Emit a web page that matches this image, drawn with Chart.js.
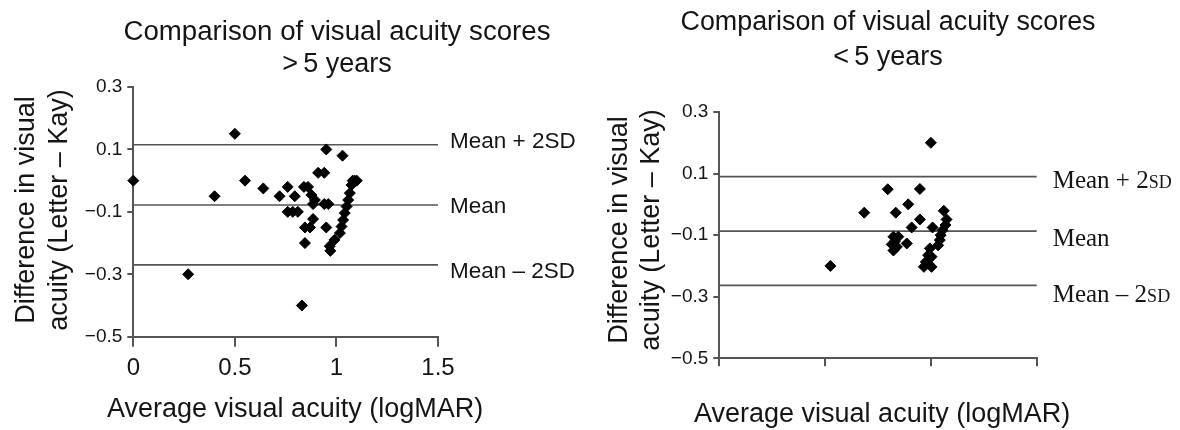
<!DOCTYPE html>
<html>
<head>
<meta charset="utf-8">
<script src="https://cdn.jsdelivr.net/npm/chart.js@4.4.0/dist/chart.umd.min.js"></script>
<style>
  html, body { margin: 0; padding: 0; background: #fff; }
  #wrap { position: relative; width: 1180px; height: 430px; }
  canvas { position: absolute; top: 0; }
</style>
</head>
<body>
<div id="wrap">
  <canvas id="older" width="600" height="430" style="left:0"></canvas>
  <canvas id="younger" width="580" height="430" style="left:600px"></canvas>
</div>
<script>
// > 5 years : average logMAR vs difference (letter - Kay)
const olderX = [0, 0.27, 0.4, 0.5, 0.55, 0.64, 0.72, 0.76, 0.795, 0.76, 0.785, 0.81,
  0.84, 0.86, 0.877, 0.894, 0.885, 0.885, 0.845, 0.87, 0.845, 0.83, 0.91, 0.94,
  0.95, 1.03, 0.94, 0.96, 0.95, 0.967, 0.97, 0.99, 1.017, 1.025, 1.033, 1.041,
  1.05, 1.058, 1.066, 1.074, 1.08, 1.09, 1.1];
const olderY = [0, -0.3, -0.05, 0.15, 0, -0.025, -0.05, -0.02, -0.05, -0.1, -0.1, -0.1,
  -0.02, -0.02, -0.046, -0.062, -0.075, -0.123, -0.15, -0.15, -0.2, -0.4, 0.025, 0.025,
  0.1, 0.08, -0.075, -0.075, -0.15, -0.21, -0.225, -0.19, -0.168, -0.147, -0.126, -0.104,
  -0.083, -0.062, -0.04, -0.014, 0, 0, 0];
const olderLimits = [0.115, -0.078, -0.27];

// < 5 years
const youngerX = [0.525, 0.685, 0.796, 0.948, 0.893, 0.834, 0.948, 0.909, 1.008, 1.0,
  0.823, 0.846, 0.83, 0.815, 0.823, 0.839, 0.886, 0.995, 0.987, 1.003, 0.976, 0.967,
  1.003, 0.987, 1.061, 1.074, 1.069, 1.055, 1.046, 1.042, 1.034];
const youngerY = [-0.2, -0.027, 0.049, 0.05, 0, -0.027, -0.049, -0.075, -0.075, 0.2,
  -0.105, -0.105, -0.12, -0.13, -0.15, -0.138, -0.127, -0.143, -0.165, -0.17, -0.187, -0.203,
  -0.203, -0.192, -0.021, -0.049, -0.067, -0.084, -0.1, -0.116, -0.133];
const youngerLimits = [0.09, -0.087, -0.263];

const limitNames = ['Mean + 2SD', 'Mean', 'Mean \u2013 2SD'];
const xTicks = [0, 0.5, 1, 1.5];
const yTicks = [-0.5, -0.3, -0.1, 0.1, 0.3];

const SANS = '"Liberation Sans", Arial, sans-serif';
const SERIF = '"Liberation Serif", "Times New Roman", serif';
const AXIS = '#555';
const INK = '#151515';

const fmtY = v => (v < 0 ? '\u2212' : '') + Math.abs(v).toFixed(1);

// draw text squeezed/stretched horizontally to a given width
function fitText(ctx, s, x, y, w) {
  const k = w / ctx.measureText(s).width;
  ctx.save();
  ctx.translate(x, y);
  ctx.scale(k, 1);
  ctx.fillText(s, 0, 0);
  ctx.restore();
}

// titles, axis titles and the line labels
function textPlugin(t) {
  return {
    id: 'texts',
    afterDraw(chart) {
      const ctx = chart.ctx;
      const ys = chart.scales.y;
      ctx.save();
      ctx.fillStyle = INK;
      ctx.textBaseline = 'alphabetic';
      ctx.font = '27px ' + SANS;
      ctx.textAlign = 'center';
      fitText(ctx, t.title[0], t.titleX, t.titleY[0], t.titleW);
      ctx.fillText(t.title[1], t.titleX, t.titleY[1]);

      ctx.textAlign = 'left';
      ctx.fillText(t.xTitle, t.xTitleX, t.xTitleY);

      ctx.save();
      ctx.translate(0, t.yTitleMid);
      ctx.rotate(-Math.PI / 2);
      ctx.textAlign = 'center';
      ctx.textBaseline = 'middle';
      t.yTitle.forEach((s, i) => ctx.fillText(s, 0, t.yTitleX[i]));
      ctx.restore();

      ctx.textAlign = 'left';
      limitNames.forEach((name, i) => {
        const py = ys.getPixelForValue(t.limits[i]) + t.labelDy[i];
        if (t.serif) {
          const head = name.replace(/SD$/, '');
          ctx.font = '25px ' + SERIF;
          ctx.fillText(head, t.labelX, py);
          if (head !== name) {
            const w = ctx.measureText(head).width;
            ctx.font = '18px ' + SERIF;
            ctx.fillText('SD', t.labelX + w, py);
          }
        } else {
          ctx.font = '22.5px ' + SANS;
          ctx.fillText(name, t.labelX, py);
        }
      });
      ctx.restore();
    }
  };
}

function makeChart(id, xs, ys, limits, box, t) {
  const canvas = document.getElementById(id);
  const W = canvas.width, H = canvas.height;
  const points = xs.map((x, i) => ({ x: x, y: ys[i] }));
  const x0 = xTicks[0], x1 = xTicks[xTicks.length - 1];
  const lines = limits.map(m => ({
    data: [{ x: x0, y: m }, { x: x1, y: m }],
    showLine: true,
    pointRadius: 0,
    borderColor: AXIS,
    borderWidth: 1.6,
    clip: false
  }));

  return new Chart(canvas, {
    type: 'scatter',
    data: {
      datasets: [{
        data: points,
        pointStyle: 'rectRot',
        pointRadius: 5.5,
        pointBackgroundColor: '#000',
        pointBorderColor: '#000',
        pointBorderWidth: 1,
        clip: false
      }].concat(lines)
    },
    options: {
      responsive: false,
      animation: false,
      devicePixelRatio: 1,
      layout: { padding: { left: 0, top: box.top, right: W - box.right, bottom: 0 } },
      plugins: { legend: { display: false }, tooltip: { enabled: false }, title: { display: false } },
      scales: {
        x: {
          type: 'linear',
          min: x0,
          max: x1,
          afterBuildTicks: s => { s.ticks = xTicks.map(v => ({ value: v })); },
          afterFit: s => { s.height = H - box.bottom; s.paddingLeft = 0; s.paddingRight = 0; },
          border: { display: true, color: AXIS, width: 2 },
          grid: { drawOnChartArea: false, drawTicks: true, tickLength: box.xTick, color: AXIS, lineWidth: 2 },
          ticks: {
            display: t.xLabels,
            padding: 7,
            color: INK,
            font: { family: SANS, size: 24 },
            maxRotation: 0,
            callback: v => String(v)
          }
        },
        y: {
          type: 'linear',
          min: yTicks[0],
          max: yTicks[yTicks.length - 1],
          afterBuildTicks: s => { s.ticks = yTicks.map(v => ({ value: v })); },
          afterFit: s => { s.width = box.left; s.paddingTop = 0; s.paddingBottom = 0; },
          border: { display: true, color: AXIS, width: 2 },
          grid: { drawOnChartArea: false, drawTicks: true, tickLength: 6, color: AXIS, lineWidth: 2 },
          ticks: {
            padding: 5,
            color: INK,
            font: { family: SANS, size: 19 },
            callback: fmtY
          }
        }
      }
    },
    plugins: [textPlugin(t)]
  });
}

makeChart('older', olderX, olderY, olderLimits,
  { left: 133.3, right: 438, top: 87, bottom: 336.7, xTick: 10 },
  {
    title: ['Comparison of visual acuity scores', '>\u20095 years'],
    titleX: 337, titleY: [40, 72], titleW: 427,
    xTitle: 'Average visual acuity (logMAR)', xTitleX: 107, xTitleY: 417,
    yTitle: ['Difference in visual', 'acuity (Letter \u2013 Kay)'], yTitleX: [27, 60], yTitleMid: 210,
    limits: olderLimits, labelX: 450, labelDy: [3.5, 8.2, 13.2],
    serif: false, xLabels: true
  });

makeChart('younger', youngerX, youngerY, youngerLimits,
  { left: 119.3, right: 436.7, top: 112, bottom: 358.3, xTick: 8 },
  {
    title: ['Comparison of visual acuity scores', '<\u20095 years'],
    titleX: 288, titleY: [30, 65], titleW: 415,
    xTitle: 'Average visual acuity (logMAR)', xTitleX: 94, xTitleY: 422,
    yTitle: ['Difference in visual', 'acuity (Letter \u2013 Kay)'], yTitleX: [20, 52], yTitleMid: 230,
    limits: youngerLimits, labelX: 452.7, labelDy: [11.7, 15, 16.6],
    serif: true, xLabels: false
  });
</script>
</body>
</html>
